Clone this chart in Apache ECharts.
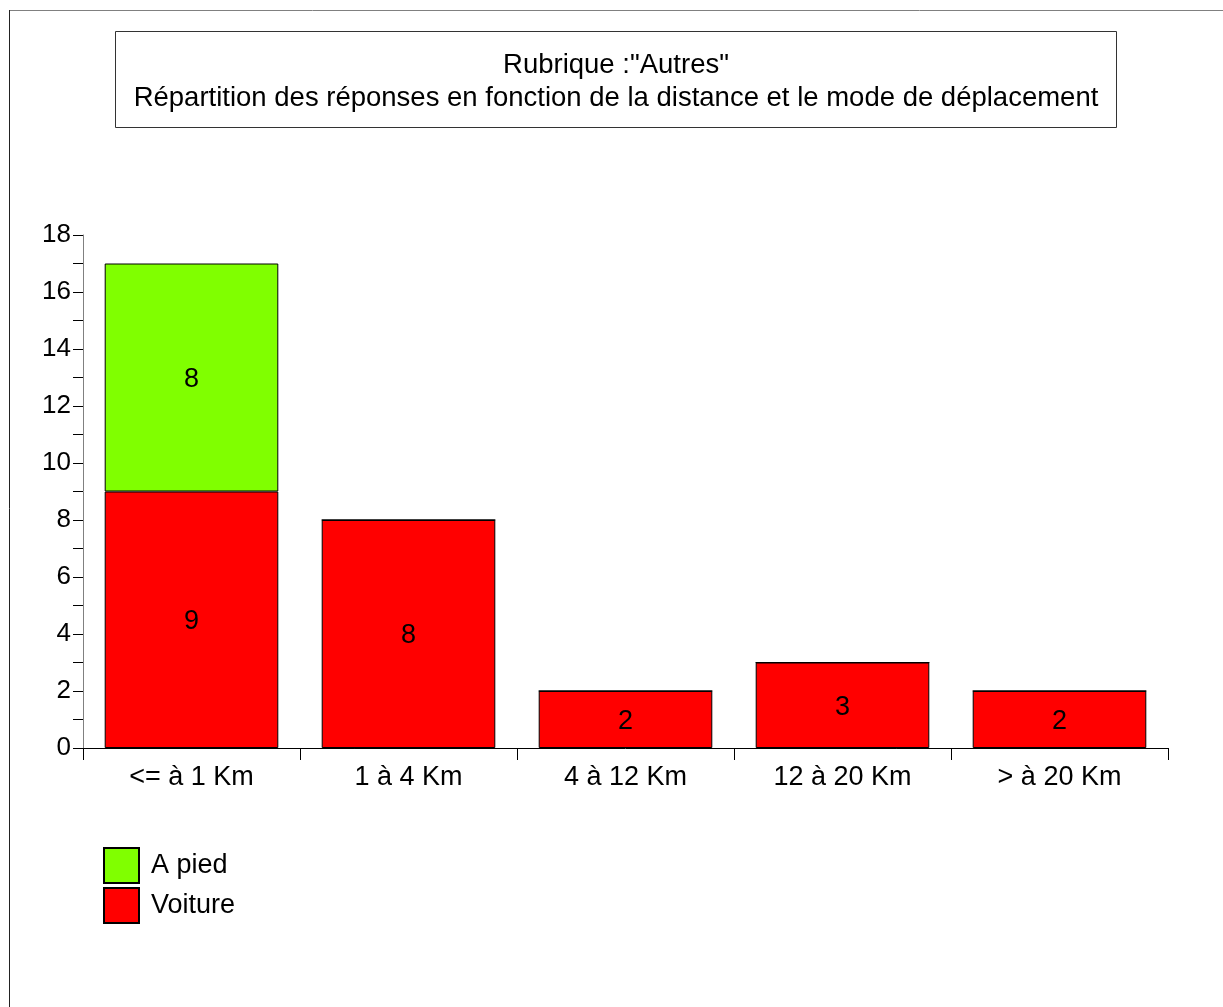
<!DOCTYPE html>
<html>
<head>
<meta charset="utf-8">
<script src="https://cdn.jsdelivr.net/npm/echarts@6/dist/echarts.min.js"></script>
<style>
  html, body { margin: 0; padding: 0; background: #fff; }
  #main { width: 1223px; height: 1007px; }
</style>
</head>
<body>
<div id="main"></div>
<script>
// data
var categories = ['<= à 1 Km', '1 à 4 Km', '4 à 12 Km', '12 à 20 Km', '> à 20 Km'];
var voiture = [9, 8, 2, 3, 2];
var aPied = [8, 0, 0, 0, 0];
var titleLines = ['Rubrique :"Autres"', 'Répartition des réponses en fonction de la distance et le mode de déplacement'];

var font = 'Liberation Sans, Arial, sans-serif';
var chart = echarts.init(document.getElementById('main'));

function lbl(p) { return p.value ? String(p.value) : ''; }

chart.setOption({
  animation: false,
  textStyle: { fontFamily: font },
  grid: { left: 83, right: 55, top: 235, bottom: 259, containLabel: false },
  graphic: [
    // cadre
    { type: 'line', shape: { x1: 9, y1: 10.5, x2: 1223, y2: 10.5 }, style: { stroke: '#808080', lineWidth: 1 } },
    { type: 'line', shape: { x1: 9.5, y1: 10, x2: 9.5, y2: 1007 }, style: { stroke: '#222', lineWidth: 1 } },
    // boite du titre
    { type: 'rect', shape: { x: 115.5, y: 31.5, width: 1001, height: 96 }, style: { fill: '#fff', stroke: '#333', lineWidth: 1 } },
    { type: 'text', x: 616, y: 65, style: { text: titleLines[0], font: '27.5px ' + font, fill: '#000', align: 'center', verticalAlign: 'middle' } },
    { type: 'text', x: 616, y: 98, style: { text: titleLines[1], font: '27.5px ' + font, fill: '#000', align: 'center', verticalAlign: 'middle' } }
  ],
  legend: {
    orient: 'vertical',
    left: 98, top: 842,
    itemWidth: 35, itemHeight: 35, itemGap: 3,
    data: ['A pied', 'Voiture'],
    textStyle: { fontSize: 27, color: '#000', fontFamily: font, lineHeight: 35, padding: [0, 0, 0, 7] },
    icon: 'rect'
  },
  xAxis: {
    type: 'category',
    data: categories,
    axisLine: { lineStyle: { color: '#000', width: 1 } },
    axisTick: { show: true, length: 12, lineStyle: { color: '#000' } },
    axisLabel: { fontSize: 27, color: '#000', margin: 16, fontFamily: font }
  },
  yAxis: {
    type: 'value',
    min: 0, max: 18, interval: 2,
    axisLine: { show: true, lineStyle: { color: '#808080', width: 1 } },
    axisTick: { show: true, length: 10, lineStyle: { color: '#000' } },
    minorTick: { show: true, splitNumber: 2, length: 10, lineStyle: { color: '#000' } },
    splitLine: { show: false },
    axisLabel: { fontSize: 26, color: '#000', margin: 12, fontFamily: font }
  },
  series: [
    {
      name: 'Voiture', type: 'bar', stack: 'total', data: voiture,
      barCategoryGap: '20%',
      itemStyle: { color: '#ff0000', borderColor: '#000', borderWidth: 1 },
      label: { show: true, position: 'inside', offset: [0, 2], fontSize: 27, color: '#000', fontFamily: font, formatter: lbl }
    },
    {
      name: 'A pied', type: 'bar', stack: 'total', data: aPied,
      itemStyle: { color: '#80ff00', borderColor: '#000', borderWidth: 1 },
      label: { show: true, position: 'inside', offset: [0, 2], fontSize: 27, color: '#000', fontFamily: font, formatter: lbl }
    }
  ]
});
</script>
</body>
</html>
